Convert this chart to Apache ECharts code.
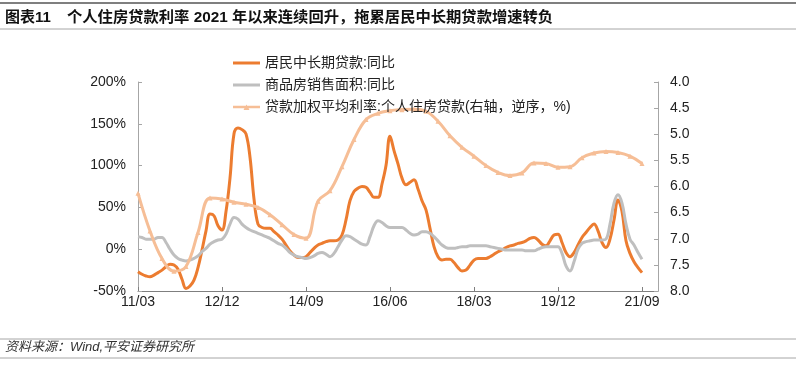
<!DOCTYPE html>
<html>
<head>
<meta charset="utf-8">
<script src="https://cdn.jsdelivr.net/npm/echarts@6/dist/echarts.min.js"></script>
<style>
html,body{margin:0;padding:0;background:#fff;}
#c{width:796px;height:365px;}
</style>
</head>
<body>
<div id="c"></div>
<script>
// ---- data ----
const startYear = 2011, startMonth = 3, totalSlots = 131; // axis runs a little past the last data month
const tickLabels = ['11/03','12/12','14/09','16/06','18/03','19/12','21/09'];

// 居民中长期贷款:同比 (%), monthly 2011/03 - 2021/09
const loanYoY = [
 -27,-30,-32,-33,-31,-28,-25,-21,-18,-19,
 -24,-36,-47,-44,-37,-22,-1,22,42,40,
 28,23,45,85,138,145,143,138,110,60,
 30,26,25,25,21,17,12,5,-2,-7,
 -10,-10,-9,-4,1,5,7,9,10,10,
 11,17,35,58,69,73,75,74,68,62,
 62,78,100,135,118,102,85,77,80,83,
 72,58,47,25,3,-9,-13,-12,-12,-16,
 -22,-26,-25,-19,-13,-11,-11,-11,-9,-6,
 -3,-1,2,4,5,7,8,10,13,14,
 11,6,4,10,17,18,8,-4,-9,-4,
 5,14,20,26,30,22,8,2,12,35,
 59,45,10,-5,-15,-22,-28
];

// 商品房销售面积:同比 (%), monthly 2011/03 - 2021/09
const salesYoY = [
 15,14,12,12,12,14,14,8,0,-7,
 -11,-13,-14,-13,-11,-8,-3,1,6,9,
 11,12,18,30,38,36,30,26,23,21,
 19,17,15,13,10,7,5,1,-4,-7,
 -9,-10,-11,-10,-8,-5,-4,-6,-9,-5,
 3,11,16,15,12,9,6,5,15,28,
 34,32,28,26,26,26,26,23,19,17,
 18,21,21,19,15,10,5,2,1,1,
 2,3,3,4,4,4,4,4,3,2,
 1,0,-1,-1,-1,-1,-1,-2,-2,-2,
 0,2,3,3,3,3,-5,-20,-26,-15,
 0,7,9,10,11,11,11,12,30,55,
 65,55,30,12,5,-4,-12
];

// 贷款加权平均利率:个人住房贷款 (%), quarterly 2011/03 - 2021/09
const mortgageRate = [
 6.13,6.85,7.38,7.62,7.53,6.88,6.22,6.24,6.30,6.34,
 6.40,6.54,6.73,6.92,6.99,6.28,6.08,5.62,5.10,4.72,
 4.60,4.55,4.53,4.52,4.56,4.75,5.03,5.25,5.42,5.60,
 5.73,5.79,5.74,5.55,5.56,5.63,5.62,5.45,5.36,5.33,
 5.35,5.42,5.56
];
const rateStep = 3;

// ---- build ----
const categories = [];
for (let i = 0; i < totalSlots; i++) {
  const m0 = startMonth - 1 + i;
  const y = startYear + Math.floor(m0 / 12);
  const m = (m0 % 12) + 1;
  categories.push(String(y).slice(2) + '/' + String(m).padStart(2, '0'));
}
const rateData = categories.map(() => null);
mortgageRate.forEach((v, k) => { rateData[k * rateStep] = v; });
const tickSet = new Set(tickLabels);
const showIdx = (idx, val) => tickSet.has(categories[idx]);

const FONT = "'Liberation Sans','Noto Sans CJK SC',sans-serif";
const lineIcon = 'path://M0,0 M27,14 M0,5.5 L27,5.5 L27,8.5 L0,8.5 Z';
const triIcon = 'path://M0,0 M27,14 M0,5.7 L27,5.7 L27,8.3 L0,8.3 Z M10.5,10 L13.5,4.5 L16.5,10 Z';

const chart = echarts.init(document.getElementById('c'), null, {renderer: 'canvas'});
chart.setOption({
  animation: false,
  textStyle: {fontFamily: FONT},
  grid: {left: 138, right: 138, top: 82, bottom: 74, containLabel: false},
  legend: {
    orient: 'vertical', left: 228, top: 51, itemGap: 8,
    itemWidth: 27, itemHeight: 14,
    textStyle: {fontSize: 14, color: '#222', fontFamily: FONT},
    data: [
      {name: '居民中长期贷款:同比', icon: lineIcon},
      {name: '商品房销售面积:同比', icon: lineIcon},
      {name: '贷款加权平均利率:个人住房贷款(右轴，逆序，%)', icon: triIcon}
    ]
  },
  graphic: [
    {type: 'line', shape: {x1: 0, y1: 3, x2: 796, y2: 3}, style: {stroke: '#7f7f7f', lineWidth: 2}},
    {type: 'line', shape: {x1: 0, y1: 29, x2: 796, y2: 29}, style: {stroke: '#a6a6a6', lineWidth: 1}},
    {type: 'text', left: 5, top: 10, style: {text: '图表11', font: "bold 15px " + FONT, fill: '#111'}},
    {type: 'text', left: 67, top: 10, style: {text: '个人住房贷款利率 2021 年以来连续回升，拖累居民中长期贷款增速转负', font: "bold 15.3px " + FONT, fill: '#111'}},
    {type: 'line', shape: {x1: 0, y1: 339, x2: 796, y2: 339}, style: {stroke: '#a6a6a6', lineWidth: 1}},
    {type: 'line', shape: {x1: 0, y1: 358, x2: 796, y2: 358}, style: {stroke: '#a6a6a6', lineWidth: 1}},
    {type: 'text', left: 5, top: 341, style: {text: '资料来源：Wind,平安证券研究所', font: "italic 13px " + FONT, fill: '#333'}}
  ],
  xAxis: [
    {
      type: 'category', data: categories, boundaryGap: false, position: 'bottom',
      axisLine: {show: false}, axisTick: {show: false}, splitLine: {show: false},
      axisLabel: {interval: showIdx, fontSize: 14, color: '#222', margin: 4, fontFamily: FONT}
    },
    {
      type: 'category', data: categories, boundaryGap: false, position: 'bottom',
      axisLine: {show: true, onZero: true, lineStyle: {color: '#7f7f7f', width: 1}},
      axisTick: {show: true, inside: true, length: 4, interval: showIdx, lineStyle: {color: '#7f7f7f'}},
      axisLabel: {show: false}, splitLine: {show: false}
    }
  ],
  yAxis: [
    {
      type: 'value', min: -50, max: 200, interval: 50, position: 'left',
      axisLine: {show: true, lineStyle: {color: '#a6a6a6'}},
      axisTick: {show: true, inside: true, length: 4, lineStyle: {color: '#a6a6a6'}},
      axisLabel: {formatter: '{value}%', fontSize: 14, color: '#222', margin: 12, fontFamily: FONT},
      splitLine: {show: false}
    },
    {
      type: 'value', min: 4, max: 8, interval: 0.5, inverse: true, position: 'right',
      axisLine: {show: true, lineStyle: {color: '#a6a6a6'}},
      axisTick: {show: true, inside: true, length: 4, lineStyle: {color: '#a6a6a6'}},
      axisLabel: {formatter: v => v.toFixed(1), fontSize: 14, color: '#222', margin: 12, fontFamily: FONT},
      splitLine: {show: false}
    }
  ],
  series: [
    {
      name: '居民中长期贷款:同比', type: 'line', xAxisIndex: 1, yAxisIndex: 0,
      data: loanYoY, smooth: 0.4, symbol: 'none',
      lineStyle: {color: '#EC7C30', width: 3}, itemStyle: {color: '#EC7C30'}
    },
    {
      name: '商品房销售面积:同比', type: 'line', xAxisIndex: 1, yAxisIndex: 0,
      data: salesYoY, smooth: 0.4, symbol: 'none',
      lineStyle: {color: '#BFBFBF', width: 3}, itemStyle: {color: '#BFBFBF'}
    },
    {
      name: '贷款加权平均利率:个人住房贷款(右轴，逆序，%)', type: 'line', xAxisIndex: 1, yAxisIndex: 1,
      data: rateData, connectNulls: true, smooth: 0.4,
      symbol: 'triangle', symbolSize: 5, showSymbol: true, showAllSymbol: true,
      lineStyle: {color: '#F6BE96', width: 3}, itemStyle: {color: '#F6BE96'}
    }
  ]
});
</script>
</body>
</html>
